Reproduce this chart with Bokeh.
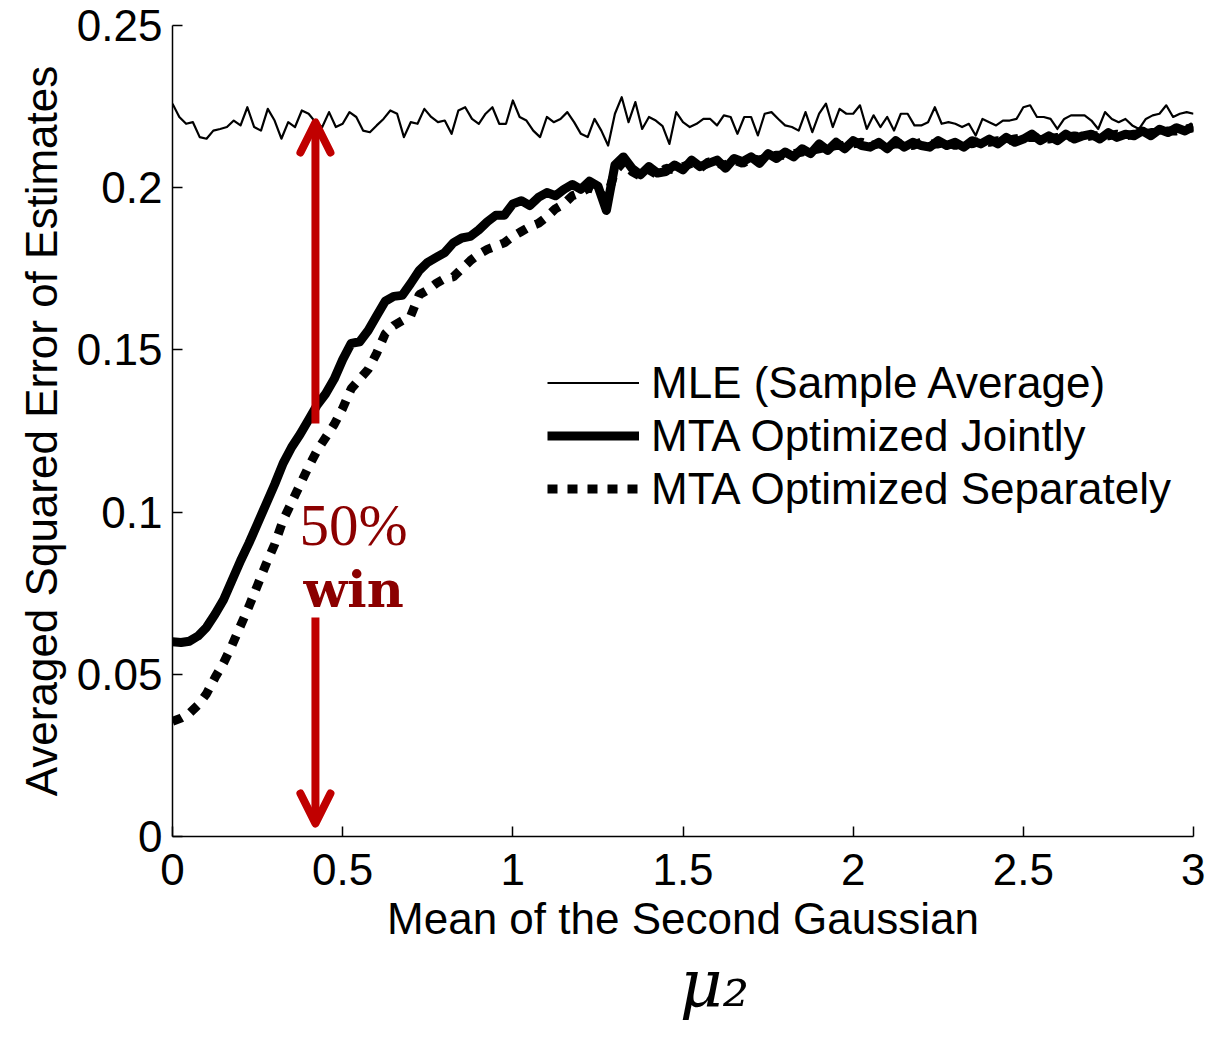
from bokeh.plotting import figure
from bokeh.models import Legend, LegendItem, Arrow, OpenHead, Label, FixedTicker, LinearAxis
from bokeh.embed import file_html
from bokeh.resources import INLINE

# ---------------- data ----------------
x_ticks = [0, 0.5, 1, 1.5, 2, 2.5, 3]
x_tick_labels = ["0", "0.5", "1", "1.5", "2", "2.5", "3"]
y_ticks = [0, 0.05, 0.1, 0.15, 0.2, 0.25]
y_tick_labels = ["0", "0.05", "0.1", "0.15", "0.2", "0.25"]

series_names = ["MLE (Sample Average)", "MTA Optimized Jointly", "MTA Optimized Separately"]

# MLE (sample average), mu_2 = 0 ... 3 step 0.02
mle = [
    0.2259, 0.2218, 0.2197, 0.2202, 0.2156, 0.2151, 0.2176, 0.2181, 0.2187, 0.2207,
    0.2192, 0.2248, 0.2187, 0.2176, 0.2243, 0.2207, 0.2151, 0.2202, 0.2187, 0.2238,
    0.2228, 0.2202, 0.2187, 0.2233, 0.2187, 0.2197, 0.2233, 0.2218, 0.2176, 0.2171,
    0.2192, 0.2212, 0.2238, 0.2228, 0.2156, 0.2202, 0.2197, 0.2243, 0.2218, 0.2202,
    0.2207, 0.2166, 0.2238, 0.2248, 0.2212, 0.2197, 0.2228, 0.2248, 0.2197, 0.2197,
    0.2269, 0.2218, 0.2207, 0.2176, 0.2156, 0.2218, 0.2202, 0.2212, 0.2233, 0.2202,
    0.2166, 0.2156, 0.2212, 0.2176, 0.2130, 0.2228, 0.2279, 0.2202, 0.2264, 0.2181,
    0.2218, 0.2207, 0.2190, 0.2135, 0.2233, 0.2202, 0.2187, 0.2197, 0.2212, 0.2212,
    0.2192, 0.2223, 0.2218, 0.2166, 0.2218, 0.2218, 0.2161, 0.2228, 0.2233, 0.2212,
    0.2192, 0.2187, 0.2176, 0.2233, 0.2171, 0.2228, 0.2259, 0.2187, 0.2243, 0.2228,
    0.2228, 0.2254, 0.2181, 0.2223, 0.2187, 0.2218, 0.2176, 0.2228, 0.2228, 0.2192,
    0.2192, 0.2202, 0.2248, 0.2197, 0.2202, 0.2197, 0.2187, 0.2197, 0.2161, 0.2212,
    0.2202, 0.2192, 0.2207, 0.2207, 0.2212, 0.2248, 0.2254, 0.2218, 0.2218, 0.2212,
    0.2181, 0.2212, 0.2223, 0.2223, 0.2223, 0.2207, 0.2181, 0.2233, 0.2212, 0.2202,
    0.2212, 0.2192, 0.2181, 0.2212, 0.2223, 0.2228, 0.2254, 0.2218, 0.2228, 0.2233,
    0.2228,
]

# MTA optimized jointly, mu_2 = 0 ... 3 step 0.025
joint = [
    0.0600, 0.0598, 0.0602, 0.0618, 0.0645, 0.0685, 0.0730, 0.0790,
    0.0850, 0.0905, 0.0965, 0.1025, 0.1085, 0.1150, 0.1200, 0.1240,
    0.1285, 0.1330, 0.1365, 0.1410, 0.1470, 0.1520, 0.1525, 0.1560,
    0.1605, 0.1650, 0.1665, 0.1668, 0.1705, 0.1745, 0.1770, 0.1785,
    0.1800, 0.1830, 0.1845, 0.1850, 0.1870, 0.1895, 0.1915, 0.1915,
    0.1950, 0.1960, 0.1945, 0.1970, 0.1985, 0.1975, 0.1995, 0.2010,
    0.1995, 0.2020, 0.2005, 0.1930, 0.2070, 0.2095, 0.2060, 0.2040,
    0.2065, 0.2045, 0.2050, 0.2070, 0.2055, 0.2085, 0.2065, 0.2075,
    0.2085, 0.2060, 0.2090, 0.2080, 0.2095, 0.2075, 0.2105, 0.2090,
    0.2110, 0.2095, 0.2120, 0.2105, 0.2135, 0.2115, 0.2140, 0.2120,
    0.2145, 0.2130, 0.2125, 0.2140, 0.2120, 0.2145, 0.2125, 0.2140,
    0.2130, 0.2125, 0.2145, 0.2130, 0.2140, 0.2125, 0.2145, 0.2135,
    0.2150, 0.2135, 0.2155, 0.2140, 0.2150, 0.2165, 0.2145, 0.2160,
    0.2145, 0.2165, 0.2150, 0.2160, 0.2165, 0.2150, 0.2170, 0.2155,
    0.2165, 0.2160, 0.2175, 0.2160, 0.2180, 0.2170, 0.2185, 0.2175,
    0.2190,
]

# MTA optimized separately, mu_2 = 0 ... 3 step 0.025
separate = [
    0.0355, 0.0365, 0.0380, 0.0405, 0.0440, 0.0490, 0.0535, 0.0590,
    0.0650, 0.0710, 0.0775, 0.0840, 0.0900, 0.0975, 0.1030, 0.1085,
    0.1140, 0.1190, 0.1230, 0.1270, 0.1320, 0.1380, 0.1410, 0.1440,
    0.1490, 0.1550, 0.1575, 0.1590, 0.1605, 0.1670, 0.1685, 0.1705,
    0.1720, 0.1725, 0.1750, 0.1775, 0.1795, 0.1810, 0.1820, 0.1830,
    0.1850, 0.1865, 0.1880, 0.1890, 0.1910, 0.1935, 0.1950, 0.1975,
    0.1985, 0.2000, 0.1990, 0.1965, 0.2050, 0.2080, 0.2050, 0.2035,
    0.2055, 0.2040, 0.2060, 0.2055, 0.2065, 0.2075, 0.2060, 0.2080,
    0.2075, 0.2070, 0.2085, 0.2075, 0.2090, 0.2085, 0.2095, 0.2100,
    0.2100, 0.2105, 0.2110, 0.2115, 0.2120, 0.2125, 0.2130, 0.2130,
    0.2135, 0.2140, 0.2130, 0.2135, 0.2130, 0.2135, 0.2135, 0.2130,
    0.2140, 0.2135, 0.2135, 0.2140, 0.2130, 0.2140, 0.2135, 0.2145,
    0.2140, 0.2145, 0.2145, 0.2150, 0.2155, 0.2155, 0.2155, 0.2150,
    0.2155, 0.2155, 0.2160, 0.2155, 0.2160, 0.2160, 0.2160, 0.2165,
    0.2160, 0.2165, 0.2165, 0.2170, 0.2170, 0.2175, 0.2175, 0.2180,
    0.2185,
]

mu_mle = [3.0 * i / (len(mle) - 1) for i in range(len(mle))]
mu_joint = [3.0 * i / (len(joint) - 1) for i in range(len(joint))]
mu_sep = [3.0 * i / (len(separate) - 1) for i in range(len(separate))]

# annotation: "50% win" arrow at mu_2 = 0.42
win_x = 0.42
win_top = 0.2201
win_upper_start = 0.1273
win_lower_start = 0.0675
win_bottom = 0.004

RED = "#c00000"
DARK_RED = "#8b0000"
SANS = "Liberation Sans"

# ---------------- figure ----------------
p = figure(width=1205, height=1025, x_range=(0, 3), y_range=(0, 0.25),
           output_backend="svg", toolbar_location=None,
           min_border_left=172, min_border_right=12,
           min_border_top=25, min_border_bottom=189)
p.outline_line_color = None
p.grid.visible = False
p.background_fill_color = "white"
p.border_fill_color = "white"

p.xaxis.ticker = FixedTicker(ticks=x_ticks)
p.xaxis.major_label_overrides = dict(zip(x_ticks, x_tick_labels))
p.yaxis.ticker = FixedTicker(ticks=y_ticks)
p.yaxis.major_label_overrides = dict(zip(y_ticks, y_tick_labels))
p.xaxis.axis_label = "Mean of the Second Gaussian"
p.yaxis.axis_label = "Averaged Squared Error of Estimates"

for ax in (p.xaxis[0], p.yaxis[0]):
    ax.major_tick_in = 10
    ax.major_tick_out = 0
    ax.minor_tick_line_color = None
    ax.axis_line_color = "black"
    ax.axis_line_width = 1.5
    ax.major_tick_line_color = "black"
    ax.major_tick_line_width = 1.5
    ax.major_label_text_font = SANS
    ax.major_label_text_font_size = "44px"
    ax.major_label_text_color = "black"
    ax.axis_label_text_font = SANS
    ax.axis_label_text_font_size = "44px"
    ax.axis_label_text_font_style = "normal"
    ax.axis_label_text_color = "black"
p.xaxis.major_label_standoff = 17
p.xaxis.axis_label_standoff = 6
p.yaxis.major_label_standoff = 10
p.yaxis.axis_label_standoff = 8

# second, label-only axis carrying the mu_2 caption under the chart
mu_axis = LinearAxis(ticker=FixedTicker(ticks=[]), axis_label="\u00a0\u00a0\u00a0μ₂",
                     axis_line_color=None, major_tick_in=0, major_tick_out=0,
                     minor_tick_line_color=None, major_label_text_font_size="0px",
                     major_label_standoff=0,
                     axis_label_text_font="DejaVu Serif", axis_label_text_font_style="italic",
                     axis_label_text_font_size="66px", axis_label_text_color="black",
                     axis_label_standoff=-1)
p.add_layout(mu_axis, "below")

r_mle = p.line(mu_mle, mle, line_color="black", line_width=2.2, line_join="round")
r_sep = p.line(mu_sep, separate, line_color="black", line_width=9, line_dash="10 10")
r_joint = p.line(mu_joint, joint, line_color="black", line_width=9, line_join="round")

legend = Legend(
    items=[LegendItem(label=series_names[0], renderers=[r_mle]),
           LegendItem(label=series_names[1], renderers=[r_joint]),
           LegendItem(label=series_names[2], renderers=[r_sep])],
    location=(375, 321), border_line_color=None, background_fill_alpha=0,
    label_text_font=SANS, label_text_font_size="44px", label_text_color="black",
    glyph_width=92, glyph_height=53, label_height=53, label_standoff=12,
    spacing=0, padding=0, margin=0)
p.add_layout(legend)

p.add_layout(Arrow(end=OpenHead(size=30, line_color=RED, line_width=8,
                                line_cap="round", line_join="round"),
                   x_start=win_x, y_start=win_upper_start, x_end=win_x, y_end=win_top,
                   line_color=RED, line_width=8))
p.add_layout(Arrow(end=OpenHead(size=30, line_color=RED, line_width=8,
                                line_cap="round", line_join="round"),
                   x_start=win_x, y_start=win_lower_start, x_end=win_x, y_end=win_bottom,
                   line_color=RED, line_width=8))

p.add_layout(Label(x=0.532, y=0.0959, text="50%", text_align="center",
                   text_baseline="alphabetic", text_font="Liberation Serif",
                   text_font_size="59px", text_color=DARK_RED))
p.add_layout(Label(x=0.532, y=0.0764, text="win", text_align="center",
                   text_baseline="alphabetic", text_font="DejaVu Serif",
                   text_font_style="bold", text_font_size="51px", text_color=DARK_RED))

open("out.html", "w").write(file_html(p, INLINE))
